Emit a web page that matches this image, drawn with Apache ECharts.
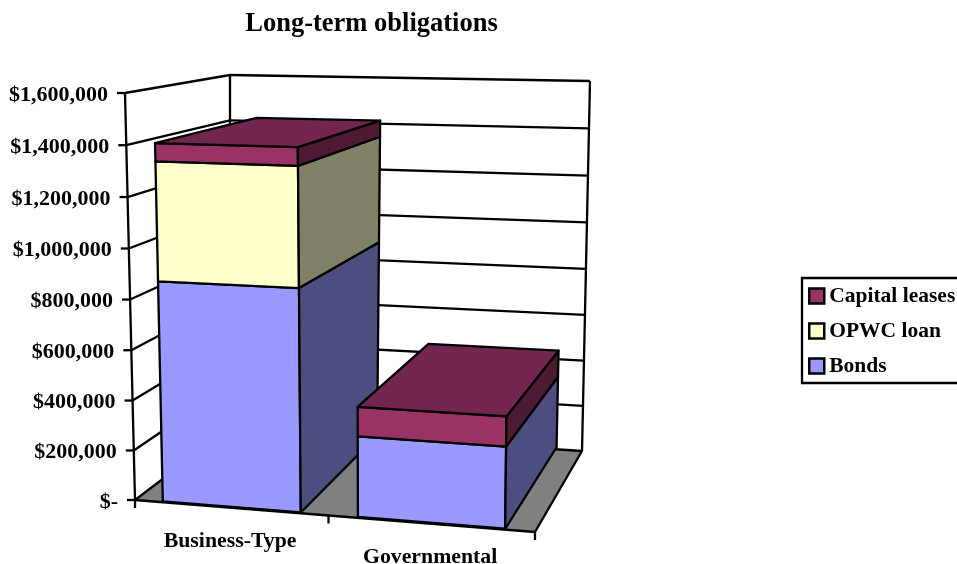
<!DOCTYPE html>
<html><head><meta charset="utf-8">
<style>html,body{margin:0;padding:0;background:#fff}#c{width:957px;height:564px}</style>
<script src="https://cdn.jsdelivr.net/npm/echarts@6/dist/echarts.min.js"></script>
</head><body><div id="c"></div>
<script>
const categories = ['Business-Type', 'Governmental'];
const bonds = [875000, 315000];
const opwcLoan = [465000, 0];
const capitalLeases = [70000, 115000];
const tickValues = [0, 200000, 400000, 600000, 800000, 1000000, 1200000, 1400000, 1600000];
const tickLabels = ['$-', '$200,000', '$400,000', '$600,000', '$800,000', '$1,000,000', '$1,200,000', '$1,400,000', '$1,600,000'];

const FONT = '"Liberation Serif","Times New Roman",serif';
const corners = {
  flb: [135, 500], frb: [535, 532], blb: [230, 428], brb: [582, 451],
  flt: [125, 93], frt: [541, 102], blt: [230, 75], brt: [590, 81]
};
const warpX = 0.065, warpT = 0.03, barFrac = 0.714, wFront = 0.01, wBack = 1.025;
const catLabelDy = 34;
const LW = 2.3;
const lerp = (a, b, s) => [a[0] + (b[0] - a[0]) * s, a[1] + (b[1] - a[1]) * s];
function project(u, t, w) {
  const uu = u + warpX * u * (u - 1), tt = t + warpT * t * (t - 1);
  const fb = lerp(corners.flb, corners.frb, uu), ft = lerp(corners.flt, corners.frt, uu);
  const bb = lerp(corners.blb, corners.brb, uu), bt = lerp(corners.blt, corners.brt, uu);
  return lerp(lerp(fb, ft, tt), lerp(bb, bt, tt), w);
}
function norm(params, api, cat, val) {
  const cs = params.coordSys, p = api.coord([cat, val]);
  return [(p[0] - cs.x) / cs.width, (cs.y + cs.height - p[1]) / cs.height];
}
const poly = (pts, fill) => ({ type: 'polygon', shape: { points: pts }, silent: true,
  style: { fill, stroke: '#000', lineWidth: LW, lineJoin: 'round' } });
const line = (a, b) => ({ type: 'line', silent: true,
  shape: { x1: a[0], y1: a[1], x2: b[0], y2: b[1] }, style: { stroke: '#000', lineWidth: LW, fill: null } });
const text = (x, y, s, align, size) => ({ type: 'text', silent: true, x, y,
  style: { text: s, fill: '#000', font: 'bold ' + size + 'px ' + FONT, textAlign: align, textVerticalAlign: 'middle' } });

function renderFrame(params, api) {
  const v = api.value(0), t = norm(params, api, 0, v)[1], kids = [];
  if (params.dataIndex === 0) {
    kids.push(poly([project(0, 0, 0), project(1, 0, 0), project(1, 0, 1), project(0, 0, 1)], '#808080'));
    kids.push(line(project(0, 0, 1), project(0, 1, 1)));
    kids.push(line(project(1, 0, 1), project(1, 1, 1)));
    kids.push(line(project(0, 0, 0), project(0, 1, 0)));
    [0, 0.5, 1].forEach(u => { const p = project(u, 0, 0); kids.push(line(p, [p[0], p[1] + 8])); });
    categories.forEach((c, i) => {
      const u = norm(params, api, i, 0)[0], p = project(u, 0, 0);
      kids.push(text(p[0], p[1] + catLabelDy, c, 'center', 21.8));
    });
  } else {
    kids.push(line(project(0, t, 0), project(0, t, 1)));
    kids.push(line(project(0, t, 1), project(1, t, 1)));
  }
  const f = project(0, t, 0);
  kids.push(line([f[0] - 8, f[1]], f));
  kids.push(text(f[0] - 17, f[1] + 2, tickLabels[params.dataIndex], 'right', 22));
  return { type: 'group', children: kids };
}
function barRenderer(fill, side, top) {
  return function (params, api) {
    const cat = api.value(0), lo = api.value(1), hi = api.value(2);
    if (hi <= lo) return { type: 'group', children: [] };
    const uc = norm(params, api, cat, lo)[0], t0 = norm(params, api, cat, lo)[1], t1 = norm(params, api, cat, hi)[1];
    const hw = api.size([1, 0])[0] / params.coordSys.width * barFrac / 2;
    const ul = uc - hw, ur = uc + hw;
    const kids = [
      poly([project(ul, t0, wFront), project(ur, t0, wFront), project(ur, t1, wFront), project(ul, t1, wFront)], fill),
      poly([project(ur, t0, wFront), project(ur, t0, wBack), project(ur, t1, wBack), project(ur, t1, wFront)], side)
    ];
    if (top) kids.push(poly([project(ul, t1, wFront), project(ur, t1, wFront), project(ur, t1, wBack), project(ul, t1, wBack)], top));
    return { type: 'group', children: kids };
  };
}
function stackData(values, below) {
  return values.map((v, i) => [i, below[i], below[i] + v]);
}
const base2 = bonds.map((b, i) => b + opwcLoan[i]);
const chart = echarts.init(document.getElementById('c'), null, { renderer: 'canvas' });
chart.setOption({
  animation: false,
  backgroundColor: '#fff',
  title: { text: 'Long-term obligations', left: 366.5, top: 6, textAlign: 'center',
    textStyle: { fontFamily: FONT, fontWeight: 'bold', fontSize: 26.5, color: '#000' } },
  grid: { left: 100, top: 100, width: 400, height: 400 },
  xAxis: { type: 'category', data: categories, show: false },
  yAxis: { type: 'value', min: 0, max: 1600000, interval: 200000, show: false },
  legend: {
    data: ['Capital leases', 'OPWC loan', 'Bonds'], orient: 'vertical', left: 802, top: 278,
    padding: [7, 20, 6, 6], itemGap: 13, itemWidth: 15, itemHeight: 15, borderColor: '#000', borderWidth: 2.3,
    icon: 'rect', selectedMode: false,
    textStyle: { fontFamily: FONT, fontWeight: 'bold', fontSize: 21.5, color: '#000', padding: [0, 0, 0, 0] },
    itemStyle: { borderColor: '#000', borderWidth: 2.5 }
  },
  series: [
    { type: 'custom', name: 'frame', data: tickValues.map(v => [v]), encode: { y: 0 }, renderItem: renderFrame, silent: true, z: 1 },
    { type: 'custom', name: 'Bonds', data: stackData(bonds, [0, 0]), encode: { x: 0, y: 2 }, renderItem: barRenderer('#9999FF', '#4D4D80'), itemStyle: { color: '#9999FF' }, z: 2 },
    { type: 'custom', name: 'OPWC loan', data: stackData(opwcLoan, bonds), encode: { x: 0, y: 2 }, renderItem: barRenderer('#FFFFCC', '#808066'), itemStyle: { color: '#FFFFCC' }, z: 3 },
    { type: 'custom', name: 'Capital leases', data: stackData(capitalLeases, base2), encode: { x: 0, y: 2 }, renderItem: barRenderer('#993366', '#4D1A33', '#732650'), itemStyle: { color: '#993366' }, z: 4 }
  ]
});
</script></body></html>
